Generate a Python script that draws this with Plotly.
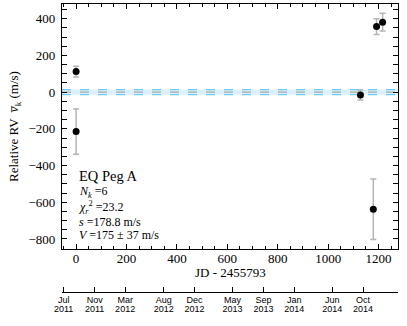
import plotly.graph_objects as go
from datetime import datetime, timedelta

# ---- data ----
jd_offset = [0, 0, 1128, 1179, 1192, 1216]
rv = [112, -215, -16, -638, 357, 381]
rv_err = [29, 123, 27, 165, 43, 48]

band_center = 0
band_half = 14

date_ticks = ["2011-07-01", "2011-11-01", "2012-03-01", "2012-08-01", "2012-12-01",
              "2013-05-01", "2013-09-01", "2014-01-01", "2014-06-01", "2014-10-01"]
month_labels = ["Jul", "Nov", "Mar", "Aug", "Dec", "May", "Sep", "Jan", "Jun", "Oct"]
year_labels = ["2011", "2011", "2012", "2012", "2012", "2013", "2013", "2014", "2014", "2014"]

x_ticks = [0, 200, 400, 600, 800, 1000, 1200]
y_ticks = [-800, -600, -400, -200, 0, 200, 400]

x_range = [-56, 1277]
y_range = [-855, 480]
jd0 = datetime(2011, 8, 19, 12)

serif = "Liberation Serif"
sans = "Liberation Sans"

fig = go.Figure()

# band
fig.add_shape(type="rect", xref="x", yref="y", x0=x_range[0], x1=x_range[1],
              y0=band_center - band_half, y1=band_center + band_half,
              fillcolor="rgba(150,215,250,0.35)", line=dict(width=0), layer="below")
for yy, col in [(band_center - band_half, "#6ccaf4"), (band_center + band_half, "#6ccaf4"),
                (band_center, "#a8a8a8")]:
    fig.add_shape(type="line", xref="x", yref="y", x0=x_range[0], x1=x_range[1],
                  y0=yy, y1=yy, line=dict(color=col, width=1.3, dash="dash"), layer="below")

fig.add_trace(go.Scatter(
    x=jd_offset, y=rv, mode="markers",
    marker=dict(color="black", size=7),
    error_y=dict(type="data", array=rv_err, color="#b4b4b4", thickness=1.5, width=3),
    showlegend=False, xaxis="x", yaxis="y"))

# invisible traces for the date axes
d0 = jd0 + timedelta(days=x_range[0])
d1 = jd0 + timedelta(days=x_range[1])
for ax in ["x2", "x3"]:
    fig.add_trace(go.Scatter(x=[d0, d1], y=[None, None], mode="markers",
                             marker=dict(opacity=0), showlegend=False,
                             xaxis=ax, yaxis="y", hoverinfo="skip"))

fig.update_layout(
    width=407, height=326,
    margin=dict(l=62, r=9, t=4, b=34),
    plot_bgcolor="white", paper_bgcolor="white",
    font=dict(family=serif, color="black", size=13),
    xaxis=dict(range=x_range, domain=[0, 1], anchor="y", automargin=False,
               showline=True, linecolor="black", linewidth=1.2, mirror="allticks",
               ticks="inside", ticklen=5, tickwidth=1, tickcolor="black",
               tickmode="array", tickvals=x_ticks,
               minor=dict(dtick=50, ticks="inside", ticklen=2.5, tickcolor="black", showgrid=False),
               showgrid=False, zeroline=False, ticklabelstandoff=-3,
               tickfont=dict(family=serif, size=13)),
    yaxis=dict(range=y_range, domain=[0.149, 1], anchor="x", automargin=False,
               showline=True, linecolor="black", linewidth=1.2, mirror="allticks",
               ticks="inside", ticklen=5, tickwidth=1, tickcolor="black",
               tickmode="array", tickvals=y_ticks,
               minor=dict(dtick=50, ticks="inside", ticklen=2.5, tickcolor="black", showgrid=False),
               showgrid=False, zeroline=False, ticklabelstandoff=3,
               tickfont=dict(family=serif, size=13),
               title=dict(text="Relative RV  <i>v̅</i><sub>k</sub> (m/s)",
                          font=dict(family=serif, size=13), standoff=6)),
    xaxis2=dict(type="date", range=[d0, d1], anchor="free", position=0, overlaying="x",
                side="bottom", automargin=False, showline=True, linecolor="black", linewidth=1,
                ticks="inside", ticklen=5, tickcolor="black",
                tickmode="array", tickvals=date_ticks, ticktext=month_labels,
                showgrid=False, zeroline=False, ticklabelstandoff=-1,
                tickfont=dict(family=sans, size=9)),
    xaxis3=dict(type="date", range=[d0, d1], anchor="free", position=0, overlaying="x",
                side="bottom", automargin=False, showline=False, ticks="",
                tickmode="array", tickvals=date_ticks, ticktext=year_labels,
                showgrid=False, zeroline=False, ticklabelstandoff=10,
                tickfont=dict(family=sans, size=9)),
)

# x-axis title
fig.add_annotation(xref="paper", yref="paper", x=0.5, y=(292 - 272) / 288,
                   text="JD - 2455793", showarrow=False, xanchor="center", yanchor="middle",
                   font=dict(family=serif, size=13))

ann_x = 0.046
fig.add_annotation(xref="paper", yref="paper", x=ann_x, y=(292 - 176) / 288,
                   text="EQ Peg A", showarrow=False, xanchor="left", yanchor="middle",
                   font=dict(family=serif, size=14.5))
lines = ["<i>N</i><sub><i>k</i></sub> =6",
         "<i>χ</i><sub><i>r</i></sub><sup>2</sup> =23.2",
         "<i>s</i> =178.8 m/s",
         "<i>V</i> =175 ± 37 m/s"]
ys = [191.5, 207, 222, 234.5]
for t, yy in zip(lines, ys):
    fig.add_annotation(xref="paper", yref="paper", x=ann_x, y=(292 - yy) / 288,
                       text=t, showarrow=False, xanchor="left", yanchor="middle",
                       font=dict(family=serif, size=12))

fig.write_html("out.html", config={"displayModeBar": False},
               post_script="document.body.style.margin='0';")
